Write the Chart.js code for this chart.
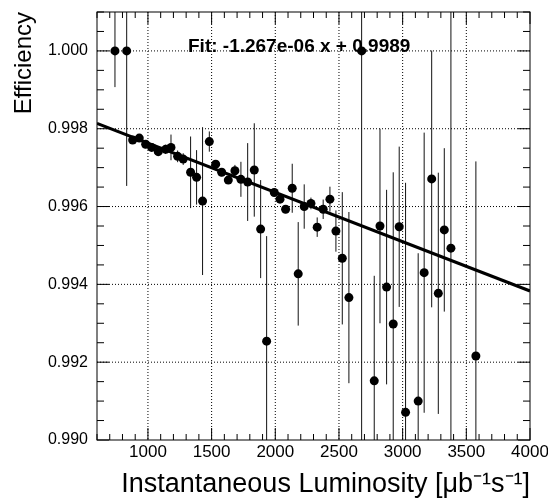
<!DOCTYPE html>
<html>
<head>
<meta charset="utf-8">
<script src="https://cdn.jsdelivr.net/npm/chart.js@4/dist/chart.umd.min.js"></script>
<style>
  html, body { margin: 0; padding: 0; background: #fff; }
  #box { width: 548px; height: 501px; }
</style>
</head>
<body>
<div id="box"><canvas id="effChart"></canvas></div>
<script>
// luminosity bins [ub^-1 s^-1]
var lumi = [741, 833, 880, 932, 982, 1029, 1081, 1139, 1181, 1233, 1277, 1335, 1382, 1429, 1482,
            1532, 1579, 1631, 1683, 1730, 1783, 1835, 1885, 1932, 1992, 2037, 2081, 2133, 2180,
            2227, 2280, 2329, 2376, 2429, 2476, 2526, 2578, 2678, 2777, 2822, 2874, 2926, 2973,
            3023, 3122, 3169, 3228, 3280, 3327, 3379, 3575];
// efficiency
var eff = [1.0000, 1.0000, 0.99771, 0.99776, 0.99760, 0.99752, 0.99741, 0.99747, 0.99752, 0.99729,
           0.99722, 0.99688, 0.99675, 0.99614, 0.99767, 0.99709, 0.99688, 0.99668, 0.99692, 0.99670,
           0.99663, 0.99694, 0.99542, 0.99254, 0.99636, 0.99619, 0.99593, 0.99647, 0.99427, 0.99600,
           0.99608, 0.99547, 0.99593, 0.99619, 0.99537, 0.99467, 0.99366, 1.0000, 0.99152, 0.99550,
           0.99393, 0.99298, 0.99548, 0.99071, 0.99100, 0.99430, 0.99671, 0.99377, 0.99540, 0.99493,
           0.99216];
// error bars (down / up)
var errLo = [0.00093, 0.00347, 0.0001, 0.0001, 0.0001, 0.0001, 0.0001, 0.00012, 0.00033, 0.00015,
             0.00015, 0.00092, 0.0007, 0.0019, 0.00026, 0.0001, 0.0001, 0.0001, 0.00015, 0.00045,
             0.001, 0.0012, 0.00126, 0.0027, 0.0001, 0.0001, 0.0001, 0.00063, 0.00133, 0.00057,
             0.00015, 0.00025, 0.00025, 0.00032, 0.00053, 0.0017, 0.0022, 0.0115, 0.0027, 0.0025,
             0.0025, 0.0039, 0.00206, 0.0059, 0.0038, 0.0036, 0.0033, 0.0031, 0.0021, 0.008,
             0.005];
var errHi = [0.0015, 0.0035, 0.0001, 0.0001, 0.0001, 0.0001, 0.0001, 0.00012, 0.00033, 0.00015,
             0.00015, 0.00092, 0.0007, 0.0019, 0.00026, 0.0001, 0.0001, 0.0001, 0.00015, 0.00045,
             0.001, 0.0012, 0.00126, 0.0027, 0.0001, 0.0001, 0.0001, 0.00063, 0.00133, 0.00057,
             0.00015, 0.00025, 0.00025, 0.00032, 0.00053, 0.0017, 0.0022, 0.0115, 0.0027, 0.0025,
             0.0025, 0.0039, 0.00206, 0.0059, 0.0038, 0.0036, 0.0033, 0.0031, 0.0021, 0.008,
             0.005];
// straight-line fit, end points
var fitLumi = [600, 4000];
var fitEff = [0.99814, 0.99383];
var fitLabel = "Fit: -1.267e-06 x + 0.9989";

var xTicks = [1000, 1500, 2000, 2500, 3000, 3500, 4000];
var yTicks = [0.990, 0.992, 0.994, 0.996, 0.998, 1.000];

var FONT = "'Liberation Sans', Arial, Helvetica, sans-serif";

function pts(xs, ys) {
  var out = [];
  for (var i = 0; i < xs.length; i++) out.push({x: xs[i], y: ys[i]});
  return out;
}

// grid, error bars, inward ticks, frame, fit text (ROOT look)
var rootStyle = {
  id: "rootStyle",
  beforeDatasetsDraw: function(chart) {
    var ctx = chart.ctx, a = chart.chartArea;
    var sx = chart.scales.x, sy = chart.scales.y;
    ctx.save();
    ctx.strokeStyle = "#000";
    ctx.lineWidth = 1;
    ctx.setLineDash([1, 2]);
    xTicks.forEach(function(v) {
      var p = sx.getPixelForValue(v);
      if (p <= a.left + 1 || p >= a.right - 1) return;
      ctx.beginPath(); ctx.moveTo(p, a.top); ctx.lineTo(p, a.bottom); ctx.stroke();
    });
    yTicks.forEach(function(v) {
      var p = sy.getPixelForValue(v);
      if (p <= a.top + 1 || p >= a.bottom - 1) return;
      ctx.beginPath(); ctx.moveTo(a.left, p); ctx.lineTo(a.right, p); ctx.stroke();
    });
    ctx.setLineDash([]);
    // error bars
    ctx.beginPath();
    ctx.rect(a.left, a.top, a.right - a.left, a.bottom - a.top);
    ctx.clip();
    ctx.strokeStyle = "#111";
    for (var i = 0; i < lumi.length; i++) {
      var px = sx.getPixelForValue(lumi[i]);
      ctx.beginPath();
      ctx.moveTo(px, sy.getPixelForValue(eff[i] + errHi[i]));
      ctx.lineTo(px, sy.getPixelForValue(eff[i] - errLo[i]));
      ctx.stroke();
    }
    ctx.restore();
  },
  afterDatasetsDraw: function(chart) {
    var ctx = chart.ctx, a = chart.chartArea;
    var sx = chart.scales.x, sy = chart.scales.y;
    ctx.save();
    ctx.strokeStyle = "#000";
    ctx.lineWidth = 1;
    ctx.beginPath();
    for (var i = 6; i <= 40; i++) {
      var p = sx.getPixelForValue(i * 100);
      var len = (i % 5 === 0) ? 12 : 6;
      ctx.moveTo(p, a.bottom); ctx.lineTo(p, a.bottom - len);
      ctx.moveTo(p, a.top); ctx.lineTo(p, a.top + len);
    }
    for (var j = 0; j <= 22; j++) {
      var q = sy.getPixelForValue(0.990 + j * 0.0005);
      var l2 = (j % 4 === 0) ? 12 : 7;
      ctx.moveTo(a.left, q); ctx.lineTo(a.left + l2, q);
      ctx.moveTo(a.right, q); ctx.lineTo(a.right - l2, q);
    }
    ctx.stroke();
    ctx.strokeRect(a.left, a.top, a.right - a.left, a.bottom - a.top);
    ctx.fillStyle = "#000";
    ctx.font = "bold 19px " + FONT;
    ctx.textBaseline = "alphabetic";
    ctx.textAlign = "left";
    ctx.fillText(fitLabel, 188, 52);
    ctx.restore();
  }
};

var myChart = new Chart(document.getElementById("effChart"), {
  type: "scatter",
  data: {
    datasets: [{
      label: "fit",
      type: "line",
      data: pts(fitLumi, fitEff),
      borderColor: "#000",
      borderWidth: 3,
      pointRadius: 0,
      fill: false,
      order: 2
    }, {
      label: "efficiency",
      data: pts(lumi, eff),
      backgroundColor: "#000",
      borderColor: "#000",
      pointRadius: 4.5,
      borderWidth: 0,
      order: 1
    }]
  },
  options: {
    responsive: true,
    maintainAspectRatio: false,
    animation: false,
    layout: { padding: { top: 12, right: 18, left: 0, bottom: 0 } },
    plugins: { legend: { display: false }, tooltip: { enabled: false } },
    scales: {
      x: {
        type: "linear",
        min: 600,
        max: 4000,
        afterBuildTicks: function(s) { s.ticks = xTicks.map(function(v) { return {value: v}; }); },
        afterFit: function(s) { s.height = 61; s.paddingLeft = 0; s.paddingRight = 0; },
        grid: { display: false, drawTicks: false },
        border: { display: false },
        ticks: {
          color: "#000",
          padding: 2,
          maxRotation: 0,
          font: { family: FONT, size: 17 },
          callback: function(v) { return String(v); }
        },
        title: {
          display: true,
          text: "Instantaneous Luminosity [\u03bcb\u207b\u00b9s\u207b\u00b9]",
          align: "end",
          color: "#000",
          padding: { top: 0, bottom: 0 },
          font: { family: FONT, size: 27 }
        }
      },
      y: {
        min: 0.990,
        max: 1.001,
        afterBuildTicks: function(s) { s.ticks = yTicks.map(function(v) { return {value: v}; }); },
        afterFit: function(s) { s.width = 97; s.paddingTop = 0; s.paddingBottom = 0; },
        grid: { display: false, drawTicks: false },
        border: { display: false },
        ticks: {
          color: "#000",
          padding: 9,
          font: { family: FONT, size: 16 },
          callback: function(v) { return v.toFixed(3); }
        },
        title: {
          display: true,
          text: "Efficiency",
          align: "end",
          color: "#000",
          padding: { top: 10, bottom: 0 },
          font: { family: FONT, size: 24 }
        }
      }
    }
  },
  plugins: [rootStyle]
});
</script>
</body>
</html>
